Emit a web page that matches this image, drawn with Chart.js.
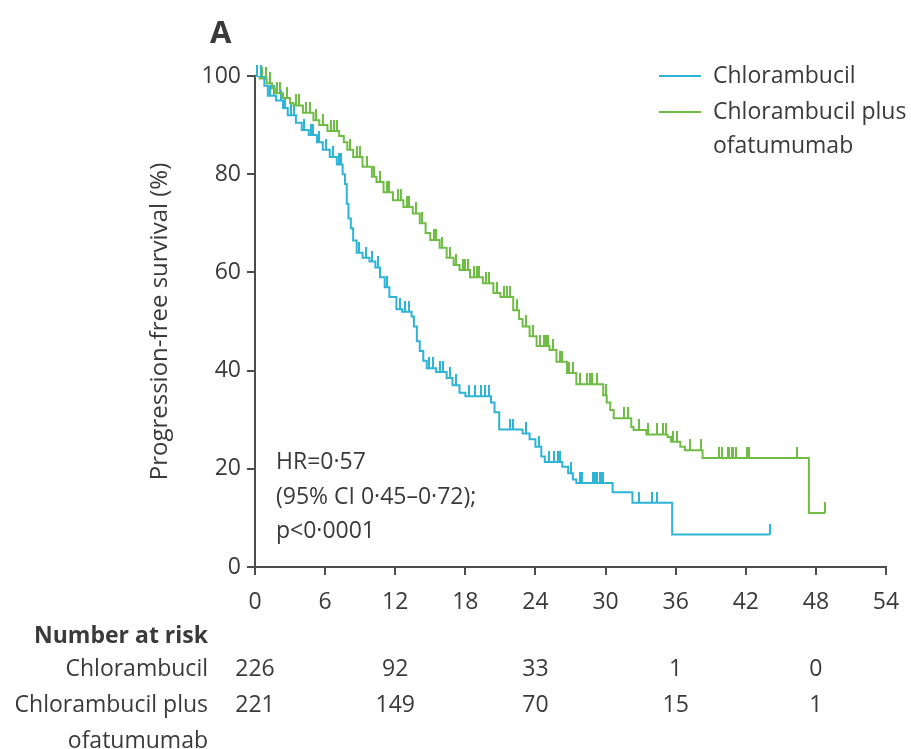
<!DOCTYPE html>
<html>
<head>
<meta charset="utf-8">
<script src="https://cdn.jsdelivr.net/npm/chart.js@4.4.1/dist/chart.umd.min.js"></script>
<style>
  html, body { margin: 0; padding: 0; background: #fff; }
</style>
</head>
<body>
<canvas id="pfsChart" width="911" height="749"></canvas>
<script>
// axis ticks
const monthTicks = [0, 6, 12, 18, 24, 30, 36, 42, 48, 54];
const pctTicks = [0, 20, 40, 60, 80, 100];

// Kaplan-Meier steps: [month, % progression-free from that month on]
const chlorSteps = [
  [0, 100], [0.8, 98], [1.1, 96], [1.8, 95], [2.4, 93.5], [2.8, 92], [3.5, 90.5],
  [4.0, 89], [4.6, 88], [5.3, 86.5], [5.8, 85], [6.4, 83.5], [7.0, 82], [7.5, 80],
  [7.7, 78], [7.85, 74], [8.0, 71], [8.2, 69], [8.4, 66.5], [8.7, 64], [9.2, 63],
  [9.8, 62.2], [10.3, 61], [10.7, 59], [11.1, 57], [11.5, 55], [12.1, 52.5], [12.6, 52],
  [13.4, 51], [13.6, 49], [13.85, 46], [14.1, 44], [14.4, 42], [14.7, 40.5], [15.5, 39.7],
  [16.4, 38.5], [16.9, 37], [17.5, 35.5], [18.0, 34.8], [20.2, 33.5], [20.5, 31.5],
  [20.9, 28], [22.9, 27.2], [23.5, 26], [24.0, 24.5], [24.5, 22.5], [24.8, 21.4],
  [26.3, 20.4], [26.8, 19.1], [27.2, 17.8], [27.5, 17.1], [30.6, 15.2], [32.3, 13.1],
  [35.7, 6.6], [44.05, 6.6]
];
const chlorCensored = [
  0.2, 0.5, 1.3, 1.6, 2.2, 2.6, 3.1, 3.3, 4.2, 4.8, 5.0, 5.5, 6.1, 6.7, 7.2, 7.4,
  8.9, 9.5, 10.0, 10.5, 11.3, 12.4, 12.8, 13.2, 14.9, 15.2, 15.8, 16.1, 16.7, 17.2,
  18.3, 18.8, 19.3, 19.7, 20.0, 21.8, 22.1, 23.2, 24.3, 25.2, 25.6, 25.9, 26.1, 27.0,
  27.8, 28.0, 28.9, 29.1, 29.3, 29.5, 29.7, 29.8, 32.9, 34.0, 34.4, 44.05
];

const comboSteps = [
  [0, 100], [0.4, 99.5], [1.0, 98.5], [1.45, 97.5], [1.7, 96.5], [2.4, 95.5], [3.0, 94.5],
  [3.3, 94], [4.1, 92.5], [5.0, 91], [5.5, 90], [6.2, 88.8], [7.2, 87.8], [7.6, 86.5],
  [7.9, 85], [8.4, 83.5], [9.2, 81.5], [10.0, 79.5], [10.4, 78.4], [11.0, 76.3],
  [11.8, 74.7], [12.7, 73.3], [13.5, 72], [14.1, 70], [14.6, 68], [15.0, 66.6], [15.8, 65],
  [16.4, 63], [17.0, 61.5], [17.5, 60.5], [18.4, 59], [19.5, 57.8], [20.4, 55.8], [21.0, 55],
  [22.1, 52.3], [22.6, 50.5], [22.9, 49], [23.5, 47], [24.1, 45], [25.2, 44.2], [25.8, 41.8],
  [26.7, 39.5], [27.5, 37.2], [29.8, 35], [30.1, 33.5], [30.4, 32], [30.7, 30.3],
  [32.2, 28.5], [32.4, 27.9], [33.5, 27.0], [35.3, 26.5], [35.6, 25.5], [36.4, 24.5],
  [36.8, 23.8], [38.3, 22.2], [47.4, 11], [48.8, 11]
];
const comboCensored = [
  0.2, 0.6, 0.9, 1.3, 1.9, 2.1, 2.7, 3.5, 3.8, 4.4, 4.7, 5.2, 5.8, 6.5, 6.8, 7.0, 8.1,
  8.7, 9.0, 9.6, 10.2, 10.7, 11.3, 11.5, 12.2, 12.5, 13.0, 13.2, 13.8, 14.3, 15.3, 15.5,
  16.0, 16.7, 17.2, 17.8, 18.0, 18.2, 18.7, 19.0, 19.2, 19.8, 20.0, 20.7, 21.3, 21.6,
  21.8, 22.4, 23.2, 23.8, 24.4, 24.7, 24.9, 25.1, 25.5, 26.1, 26.3, 26.9, 27.2, 27.8,
  28.4, 28.7, 28.8, 29.3, 30.0, 31.6, 31.9, 32.9, 33.6, 34.4, 34.9, 35.2, 35.8, 36.1,
  37.2, 38.2, 39.7, 40.0, 40.5, 40.6, 40.8, 40.9, 41.2, 42.1, 42.3, 46.4, 48.8
];

// number at risk table
const riskMonths = [0, 12, 24, 36, 48];
const chlorAtRisk = [226, 92, 33, 1, 0];
const comboAtRisk = [221, 149, 70, 15, 1];

const BLUE = '#2db4d7';
const GREEN = '#70bd45';
const INK = '#3a3a3a';
const AXIS = '#4d4d4d';
const FONT = '"Open Sans", "Noto Sans", sans-serif';

// survival value of a step curve at a given month
function survivalAt(steps, month) {
  let v = steps[0][1];
  for (const [m, s] of steps) {
    if (m <= month) v = s; else break;
  }
  return v;
}

// censor mark: short vertical stroke sitting on top of the curve
function censorMark(color) {
  const c = document.createElement('canvas');
  c.width = 2;
  c.height = 22;
  const g = c.getContext('2d');
  g.fillStyle = color;
  g.fillRect(0, 0, 2, 11);
  return c;
}

function stepData(steps) {
  return steps.map(([m, s]) => ({ x: m, y: s }));
}

function censorData(steps, months) {
  return months.map(m => ({ x: m, y: survivalAt(steps, m) }));
}

const extras = {
  id: 'extras',
  afterDraw(chart) {
    const { ctx } = chart;
    const x = chart.scales.x;
    ctx.save();
    ctx.fillStyle = INK;
    ctx.textBaseline = 'middle';

    ctx.font = 'bold 31px ' + FONT;
    ctx.textAlign = 'left';
    ctx.fillText('A', 210, 34);

    // legend
    ctx.lineWidth = 2;
    ctx.strokeStyle = BLUE;
    ctx.beginPath(); ctx.moveTo(659, 76); ctx.lineTo(701, 76); ctx.stroke();
    ctx.strokeStyle = GREEN;
    ctx.beginPath(); ctx.moveTo(659, 112); ctx.lineTo(701, 112); ctx.stroke();
    ctx.font = '23px ' + FONT;
    ctx.fillText('Chlorambucil', 713, 76);
    ctx.fillText('Chlorambucil plus', 713, 112);
    ctx.fillText('ofatumumab', 713, 146);

    // hazard ratio
    ctx.fillText('HR=0·57', 276, 462);
    ctx.fillText('(95% CI 0·45–0·72);', 276, 497);
    ctx.fillText('p<0·0001', 276, 531);

    // number at risk
    ctx.textAlign = 'right';
    ctx.font = 'bold 23px ' + FONT;
    ctx.fillText('Number at risk', 208, 636);
    ctx.font = '23px ' + FONT;
    ctx.fillText('Chlorambucil', 208, 669);
    ctx.fillText('Chlorambucil plus', 208, 705);
    ctx.fillText('ofatumumab', 208, 741);
    ctx.textAlign = 'center';
    riskMonths.forEach((m, i) => {
      const px = x.getPixelForValue(m);
      ctx.fillText(String(chlorAtRisk[i]), px, 669);
      ctx.fillText(String(comboAtRisk[i]), px, 705);
    });
    ctx.restore();
  }
};

new Chart(document.getElementById('pfsChart'), {
  type: 'line',
  data: {
    datasets: [
      {
        label: 'Chlorambucil',
        data: stepData(chlorSteps),
        borderColor: BLUE,
        borderWidth: 2,
        stepped: true,
        pointRadius: 0,
        fill: false
      },
      {
        label: 'Chlorambucil plus ofatumumab',
        data: stepData(comboSteps),
        borderColor: GREEN,
        borderWidth: 2,
        stepped: true,
        pointRadius: 0,
        fill: false
      },
      {
        label: 'Chlorambucil censored',
        data: censorData(chlorSteps, chlorCensored),
        showLine: false,
        pointStyle: censorMark(BLUE),
        pointRadius: 6,
        clip: false
      },
      {
        label: 'Chlorambucil plus ofatumumab censored',
        data: censorData(comboSteps, comboCensored),
        showLine: false,
        pointStyle: censorMark(GREEN),
        pointRadius: 6,
        clip: false
      }
    ]
  },
  options: {
    responsive: false,
    animation: false,
    layout: { padding: { left: 146, right: 25, top: 76, bottom: 0 } },
    plugins: {
      legend: { display: false },
      tooltip: { enabled: false }
    },
    scales: {
      x: {
        type: 'linear',
        min: 0,
        max: 54,
        afterBuildTicks: axis => { axis.ticks = monthTicks.map(v => ({ value: v })); },
        afterFit: axis => {
          axis.height = 182;
          axis.paddingLeft = 0;
          axis.paddingRight = 0;
        },
        border: { color: AXIS, width: 2 },
        grid: { drawOnChartArea: false, drawTicks: true, tickLength: 8, color: AXIS, lineWidth: 2 },
        ticks: { color: INK, font: { family: FONT, size: 23 }, padding: 14, maxRotation: 0 }
      },
      y: {
        min: 0,
        max: 100,
        afterBuildTicks: axis => { axis.ticks = pctTicks.map(v => ({ value: v })); },
        afterFit: axis => { axis.width = 109; },
        border: { color: AXIS, width: 2 },
        grid: { drawOnChartArea: false, drawTicks: true, tickLength: 8, color: AXIS, lineWidth: 2 },
        ticks: { color: INK, font: { family: FONT, size: 23 }, padding: 6 },
        title: {
          display: true,
          text: 'Progression-free survival (%)',
          color: INK,
          font: { family: FONT, size: 24 },
          padding: { top: 0, bottom: 0 }
        }
      }
    }
  },
  plugins: [extras]
});
</script>
</body>
</html>
